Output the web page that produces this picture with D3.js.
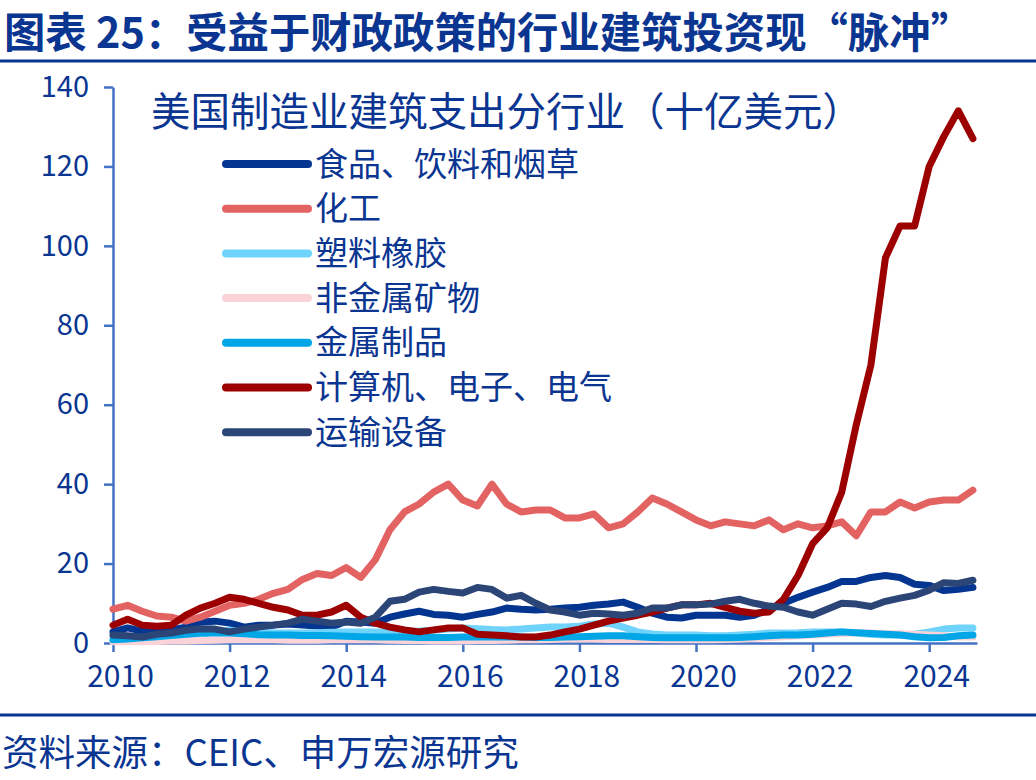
<!DOCTYPE html>
<html>
<head>
<meta charset="utf-8">
<script src="https://cdn.jsdelivr.net/npm/d3@7"></script>
<style>
  html, body { margin: 0; padding: 0; background: #ffffff; }
  svg { display: block; }
  text { font-family: "Noto Sans CJK SC", "Noto Sans", sans-serif; }
</style>
</head>
<body>
<svg id="chart" width="1036" height="780"></svg>
<script>
// ---------- data ----------
const titleText = "图表 25：受益于财政政策的行业建筑投资现“脉冲”";
const subtitleText = "美国制造业建筑支出分行业（十亿美元）";
const sourceText = "资料来源：CEIC、申万宏源研究";

// quarterly observation times (year fractions), 2010Q1 .. 2024Q4
const periods = d3.range(60).map(i => 2010 + i / 4);

const seriesNames = ["食品、饮料和烟草", "化工", "塑料橡胶", "非金属矿物", "金属制品", "计算机、电子、电气", "运输设备"];

const food = [2.8,3.8,3,3,3.3,4,5.3,5.5,5,4,4.5,4.5,4.8,4.5,4.3,4,5.5,5.3,5,6.5,
  7.3,8,7.2,7,6.5,7.2,7.8,8.8,8.5,8.3,8.5,8.8,9,9.5,9.8,10.3,9,7.5,6.5,6.3,
  7,7,7,6.5,7,8.5,10,11.5,12.8,14,15.5,15.5,16.5,17,16.5,14.8,14.5,13.2,13.5,14];
const chemical = [8.5,9.5,8,6.8,6.5,5.5,6.5,8,9.5,10,11,12.5,13.5,16,17.5,17,19,16.5,21,28.5,
  33,35,38,40,36,34.5,40,35,33,33.5,33.5,31.5,31.5,32.5,29,30,33,36.5,35,33,
  31,29.5,30.5,30,29.5,31,28.5,30,29,29.5,30.5,27,33,33,35.5,34,35.5,36,36,38.5];
const plastics = [0.5,0.8,1,1.3,1.5,1.8,2.2,2.8,3.2,3,2.8,2.6,2.5,2.5,2.6,2.7,2.8,2.8,2.8,2.8,
  2.9,3,3.2,3.5,3.8,3.6,3.4,3.3,3.5,3.8,4,4,4.2,4.8,5,4,2.8,2.3,2,2,
  2,1.8,1.8,2,2.2,2.5,2.5,2.6,2.8,2.8,2.8,2.5,2.2,2,2,2.2,2.8,3.5,3.8,3.8];
const nonmetal = [0.3,0.3,0.3,0.4,0.5,0.5,0.6,0.7,0.8,0.8,0.8,0.8,0.7,0.7,0.7,0.8,0.8,0.8,0.8,0.7,
  0.6,0.6,0.5,0.5,0.5,0.6,0.6,0.7,0.8,0.8,0.9,1,1,1,0.9,0.9,0.9,0.9,0.8,0.8,
  0.8,0.8,0.9,1,1.2,1.4,1.6,1.8,2,2.2,2.4,2.5,2.5,2.4,2.3,2.2,2,1.8,1.5,1.5];
const metal = [0.8,1,1.3,1.6,1.9,2.2,2.5,2.5,2.5,2.3,2.1,2,2,1.9,1.9,1.8,1.7,1.6,1.5,1.5,
  1.5,1.4,1.4,1.4,1.5,1.5,1.5,1.5,1.5,1.4,1.4,1.5,1.6,1.7,1.8,1.8,1.6,1.4,1.3,1.3,
  1.3,1.3,1.3,1.4,1.6,1.8,2,2,2.2,2.5,2.8,2.6,2.4,2.2,2,1.6,1.3,1.4,1.8,2];
const computer = [4.5,6,4.5,4.2,4.5,7,8.8,10,11.5,11,10,9,8.3,7,7,7.8,9.5,6.5,5,4,
  3.3,2.8,3.3,3.8,3.8,2.2,2,1.8,1.5,1.5,2,2.8,3.5,4.5,5.5,6.3,7,7.8,8.8,9.6,
  9.6,10,9,8,7.5,7.8,11,17,25,29,38,55,70,97,105,105,120,127.5,134,127];
const transport = [2,1.8,1.5,2.2,2.5,3.2,3.6,3.5,2.8,3.5,4,4.5,5,6,5.5,5,5.3,5,6.5,10.5,
  11,12.8,13.5,13,12.6,14,13.5,11.3,12,10,8.3,7.8,7,7.5,7.3,7,7.5,8.8,8.8,9.6,
  9.6,9.8,10.5,11,10,9.3,9,7.8,7,8.5,10,9.8,9.2,10.5,11.3,12,13.3,15.2,15,15.8];

const seriesValues = [food, chemical, plastics, nonmetal, metal, computer, transport];
const seriesColors = ["#033591", "#e36262", "#6fd3fb", "#f9d3d8", "#00a6e6", "#9c0000", "#2b4577"];

const yTicks = [0, 20, 40, 60, 80, 100, 120, 140];
const xTicks = [2010, 2012, 2014, 2016, 2018, 2020, 2022, 2024];

// ---------- drawing ----------
const svg = d3.select("#chart");
const textColor = "#0a3591";
const axisColor = "#4472c4";

const x = d3.scaleLinear().domain([2010, 2024.82]).range([113, 977]);
const y = d3.scaleLinear().domain([0, 140]).range([643, 87]);

// title
svg.append("text").attr("x", 4).attr("y", 48)
  .attr("font-size", 42).attr("font-weight", 700).attr("fill", textColor)
  .attr("textLength", 968).attr("lengthAdjust", "spacingAndGlyphs")
  .text(titleText);
svg.append("line").attr("x1", 0).attr("x2", 1036).attr("y1", 61).attr("y2", 61)
  .attr("stroke", textColor).attr("stroke-width", 3);

// footer
svg.append("line").attr("x1", 0).attr("x2", 1036).attr("y1", 715).attr("y2", 715)
  .attr("stroke", textColor).attr("stroke-width", 3);
svg.append("text").attr("x", 2).attr("y", 766)
  .attr("font-size", 36.5).attr("fill", textColor)
  .text(sourceText);

// axes
const yAxis = d3.axisLeft(y).tickValues(yTicks).tickSize(9).tickPadding(15).tickSizeOuter(0);
const gy = svg.append("g").attr("transform", "translate(113,0)").call(yAxis);
gy.selectAll("path").attr("stroke", axisColor).attr("stroke-width", 2.5);
gy.selectAll("line").attr("stroke", axisColor).attr("stroke-width", 2.5);
gy.selectAll("text").attr("fill", textColor).attr("font-size", 29)
  .attr("font-family", "Liberation Sans, Arial, sans-serif");

const xAxis = d3.axisBottom(x).tickValues(xTicks).tickFormat(d3.format("d")).tickSize(9).tickPadding(14).tickSizeOuter(0);
const gx = svg.append("g").attr("transform", "translate(0,643)").call(xAxis);
gx.selectAll("path").attr("stroke", axisColor).attr("stroke-width", 2.5);
gx.selectAll("line").attr("stroke", axisColor).attr("stroke-width", 2.5);
gx.selectAll("text").attr("fill", textColor).attr("font-size", 30)
  .attr("font-family", "Liberation Sans, Arial, sans-serif").attr("dx", 7);

// lines
const line = d3.line().x((d, i) => x(periods[i])).y(d => y(d));
const gl = svg.append("g");
seriesValues.forEach((vals, k) => {
  gl.append("path").datum(vals)
    .attr("d", line)
    .attr("fill", "none")
    .attr("stroke", seriesColors[k])
    .attr("stroke-width", 7)
    .attr("stroke-linejoin", "round")
    .attr("stroke-linecap", "round");
});

// subtitle
svg.append("text").attr("x", 151).attr("y", 126)
  .attr("font-size", 39.5).attr("fill", textColor)
  .text(subtitleText);

// legend
const lg = svg.append("g");
seriesNames.forEach((name, k) => {
  const cy = 164 + k * 44.7;
  lg.append("line").attr("x1", 226).attr("x2", 308).attr("y1", cy).attr("y2", cy)
    .attr("stroke", seriesColors[k]).attr("stroke-width", 8).attr("stroke-linecap", "round");
  lg.append("text").attr("x", 315).attr("y", cy + 11.5)
    .attr("font-size", 33).attr("fill", textColor).text(name);
});
</script>
</body>
</html>
